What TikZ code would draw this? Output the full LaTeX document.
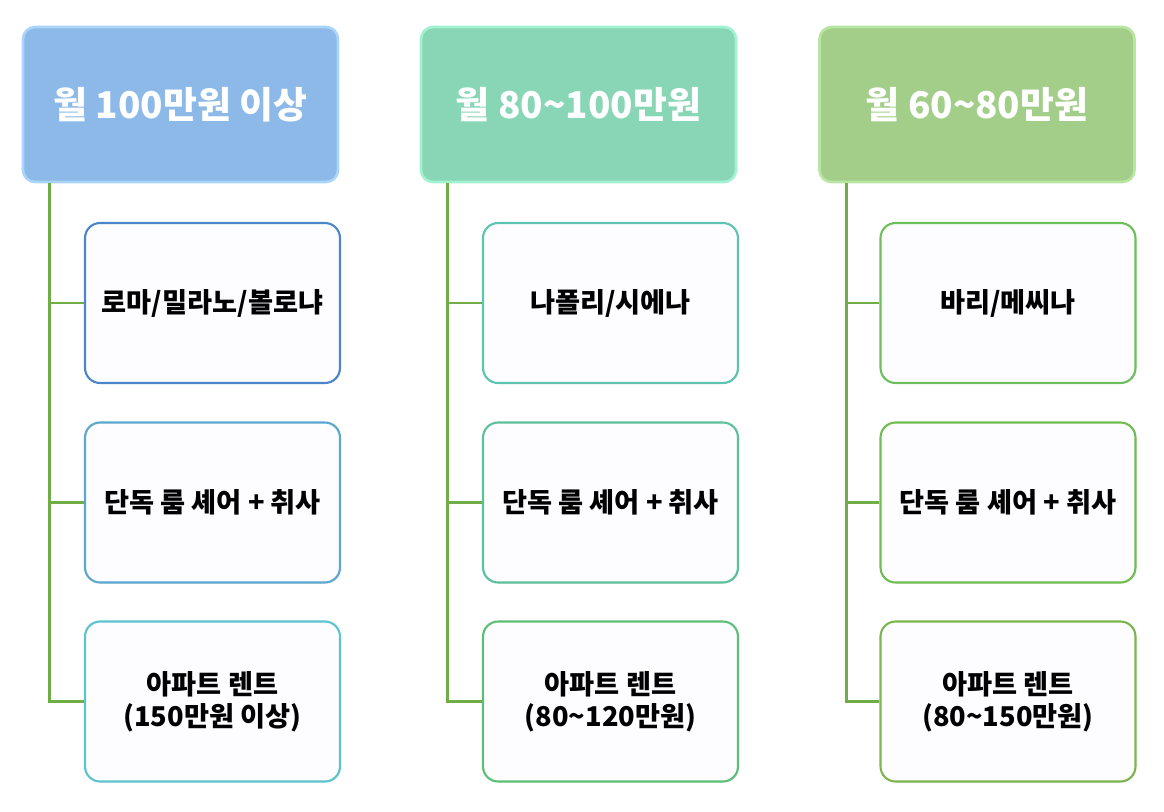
\documentclass[tikz,border=0pt]{standalone}
\usepackage{fontspec}
\setmainfont{Noto Sans CJK KR}
\usetikzlibrary{shadows}

\definecolor{headblue}{HTML}{8DB9E8}
\definecolor{rimblue}{HTML}{A9D4FB}
\definecolor{headmint}{HTML}{88D6B6}
\definecolor{rimmint}{HTML}{A2F2D2}
\definecolor{headgreen}{HTML}{A2CE8A}
\definecolor{rimgreen}{HTML}{B9E5A2}
\definecolor{branchgreen}{HTML}{70AD47}
\definecolor{boxfill}{HTML}{FDFCFF}

\tikzset{
    headbox/.style={rounded corners=0.24cm, minimum width=6.3cm, minimum height=3.1cm,
        line width=1.5pt, text=white, font=\fontsize{21}{25}\selectfont\bfseries},
    itembox/.style={rounded corners=0.3cm, minimum width=5.1cm, minimum height=3.2cm,
        fill=boxfill, line width=1.2pt, align=center,
        font=\fontsize{15.5}{18}\selectfont\bfseries,
        drop shadow={shadow xshift=0.5pt, shadow yshift=-0.5pt, opacity=0.25}},
    branch/.style={branchgreen, line width=1.7pt}
}

\begin{document}
\begin{tikzpicture}[x=0.02cm, y=-0.02cm]
    % Fix the page size
    \useasboundingbox (0,0) rectangle (1164,812);

    % Draw the header boxes
    \node[headbox, fill=headblue, draw=rimblue] (h1) at (180.5,104.5) {월 100만원 이상};
    \node[headbox, fill=headmint, draw=rimmint] (h2) at (578.5,104.5) {월 80\textasciitilde100만원};
    \node[headbox, fill=headgreen, draw=rimgreen] (h3) at (977,104.5) {월 60\textasciitilde80만원};

    % Draw the first column
    \node[itembox, draw=blue!55!cyan!70!black!70] (c11) at (212.5,303) {로마/밀라노/볼로냐};
    \node[itembox, draw={rgb,255:red,91;green,167;blue,207}] (c12) at (212.5,502.5) {단독 룸 셰어 + 취사};
    \node[itembox, draw={rgb,255:red,91;green,196;blue,207}] (c13) at (212.5,701.5) {아파트 렌트\\(150만원 이상)};

    % Draw the second column
    \node[itembox, draw={rgb,255:red,92;green,196;blue,176}] (c21) at (610.5,303) {나폴리/시에나};
    \node[itembox, draw={rgb,255:red,92;green,192;blue,154}] (c22) at (610.5,502.5) {단독 룸 셰어 + 취사};
    \node[itembox, draw={rgb,255:red,92;green,191;blue,120}] (c23) at (610.5,701.5) {아파트 렌트\\(80\textasciitilde120만원)};

    % Draw the third column
    \node[itembox, draw={rgb,255:red,108;green,191;blue,90}] (c31) at (1008,303) {바리/메씨나};
    \node[itembox, draw={rgb,255:red,112;green,188;blue,80}] (c32) at (1008,502.5) {단독 룸 셰어 + 취사};
    \node[itembox, draw={rgb,255:red,124;green,181;blue,78}] (c33) at (1008,701.5) {아파트 렌트\\(80\textasciitilde150만원)};

    % Draw the branch lines
    \coordinate (t1) at ([xshift=0.56cm]h1.south west);
    \coordinate (t2) at ([xshift=0.56cm]h2.south west);
    \coordinate (t3) at ([xshift=0.56cm]h3.south west);
    \draw[branch] (t1) |- (c13.west);
    \draw[branch] (t1 |- c11.west) -- (c11.west);
    \draw[branch] (t1 |- c12.west) -- (c12.west);
    \draw[branch] (t2) |- (c23.west);
    \draw[branch] (t2 |- c21.west) -- (c21.west);
    \draw[branch] (t2 |- c22.west) -- (c22.west);
    \draw[branch] (t3) |- (c33.west);
    \draw[branch] (t3 |- c31.west) -- (c31.west);
    \draw[branch] (t3 |- c32.west) -- (c32.west);
\end{tikzpicture}
\end{document}
